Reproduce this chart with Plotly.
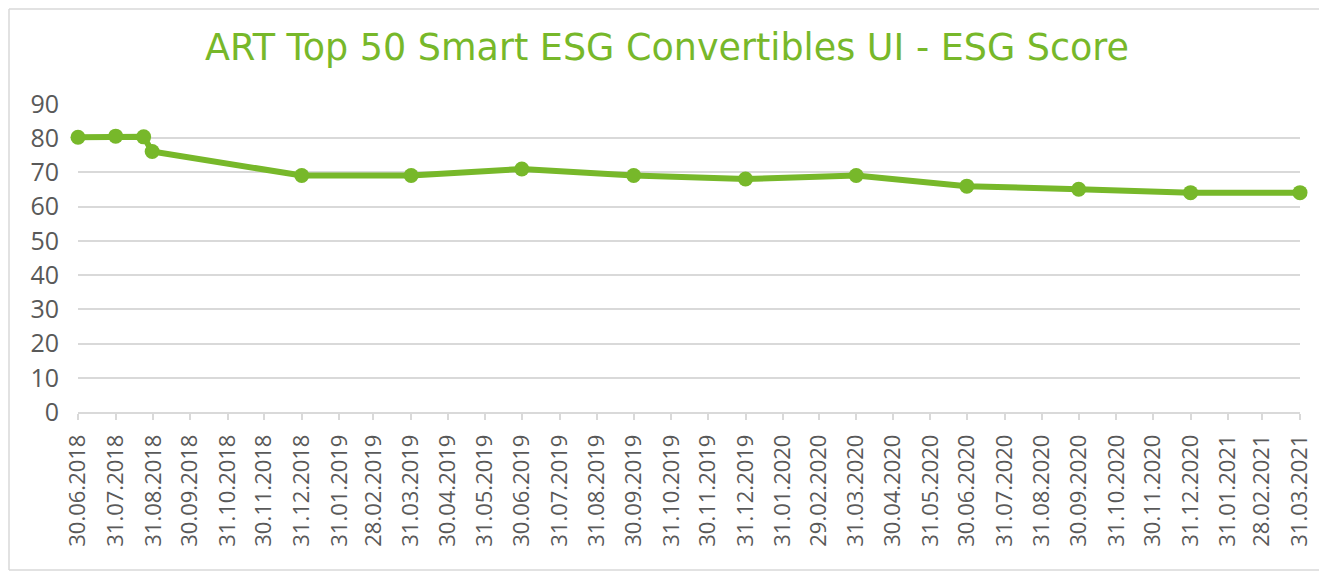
import plotly.graph_objects as go
import pandas as pd

# Data
dates = ["2018-06-30", "2018-07-31", "2018-08-23", "2018-08-30", "2018-12-31",
         "2019-03-31", "2019-06-30", "2019-09-30", "2019-12-31", "2020-03-31",
         "2020-06-30", "2020-09-30", "2020-12-31", "2021-03-31"]
esg_score = [80.3, 80.6, 80.4, 76.1, 69.1, 69.1, 71.0, 69.1, 68.1, 69.1,
             66.0, 65.1, 64.1, 64.1]

tick_dates = [d.strftime("%Y-%m-%d") for d in pd.date_range("2018-06-30", "2021-03-31", freq="ME")]
tick_labels = [d.strftime("%d.%m.%Y") for d in pd.to_datetime(tick_dates)]

title_text = "ART Top 50 Smart ESG Convertibles UI - ESG Score"

GREEN = "#77B82A"
GREY_TXT = "#595959"
GRID = "#D9D9D9"
FONT = "Open Sans"

fig = go.Figure()
fig.add_trace(go.Scatter(
    x=dates, y=esg_score, mode="lines+markers",
    line=dict(color=GREEN, width=6),
    marker=dict(color=GREEN, size=15),
    cliponaxis=False, showlegend=False,
))

OFF = 8  # page body margin
W, H = 1327 - 2 * OFF, 579 - 2 * OFF
L, R, T = 78 - OFF, W - (1300 - OFF), 104 - OFF
B = H - (412 - OFF)
pw, ph = W - L - R, H - T - B

# frame edges in paper coordinates (left, top, bottom lines only)
fx0, fx1 = (1 - L) / pw, (W - L) / pw
fy0, fy1 = (1 - B) / ph, (H - B - 1) / ph
frame = dict(type="line", xref="paper", yref="paper",
             line=dict(color=GRID, width=1.5), layer="below")

fig.update_layout(
    width=W, height=H,
    margin=dict(l=L, r=R, t=T, b=B, autoexpand=False),
    paper_bgcolor="white", plot_bgcolor="white",
    font=dict(family=FONT, color=GREY_TXT),
    title=dict(text=title_text, x=(667 - OFF) / W, xanchor="center",
               y=1 - (47 - OFF) / H, yanchor="middle",
               font=dict(family="DejaVu Sans", size=36.5, color=GREEN)),
    xaxis=dict(
        type="date", range=[dates[0], dates[-1]],
        tickmode="array", tickvals=tick_dates, ticktext=tick_labels,
        tickangle=-90, tickfont=dict(size=22, color=GREY_TXT),
        showgrid=False, showline=True, linecolor=GRID, linewidth=1.5,
        ticks="outside", ticklen=6, tickcolor=GRID, tickwidth=1.5,
        ticklabelstandoff=6, zeroline=False,
    ),
    yaxis=dict(
        range=[0, 90], dtick=10, tick0=0,
        tickfont=dict(size=25, color=GREY_TXT),
        showgrid=True, gridcolor=GRID, gridwidth=1.5,
        zeroline=False, showline=False, ticks="", ticklabelstandoff=18,
    ),
    shapes=[
        dict(frame, x0=fx0, x1=fx1, y0=fy1, y1=fy1),
        dict(frame, x0=fx0, x1=fx1, y0=fy0, y1=fy0),
        dict(frame, x0=fx0, x1=fx0, y0=fy0, y1=fy1),
    ],
)

fig.write_html("out.html")
